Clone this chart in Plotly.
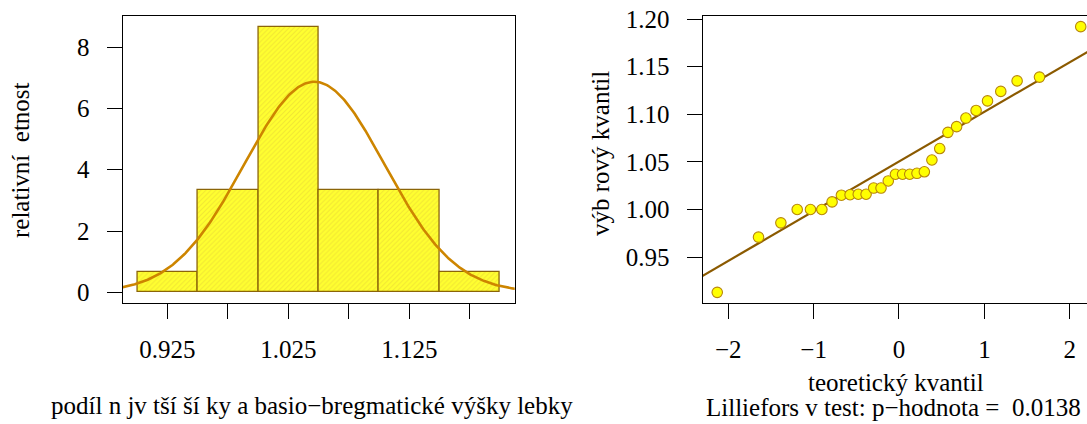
import numpy as np
import plotly.graph_objects as go
from statistics import NormalDist

# Sorted sample: ratio of the greatest skull breadth to basion-bregma height
sample = [0.913, 0.971, 0.986, 1.000, 1.000, 1.000, 1.008, 1.015, 1.0155, 1.016,
          1.016, 1.0225, 1.0225, 1.030, 1.037, 1.037, 1.037, 1.038, 1.0396, 1.052,
          1.064, 1.081, 1.087, 1.096, 1.104, 1.114, 1.124, 1.135, 1.139, 1.192]
bin_edges = [0.90, 0.95, 1.00, 1.05, 1.10, 1.15, 1.20]
hist_ticks = [0.925, 0.975, 1.025, 1.075, 1.125, 1.175]
hist_tick_text = ["0.925", "", "1.025", "", "1.125", ""]
density_ticks = [0, 2, 4, 6, 8]
qq_x_ticks = [-2, -1, 0, 1, 2]
qq_y_ticks = [0.95, 1.00, 1.05, 1.10, 1.15, 1.20]
p_value = 0.0138

x = np.array(sample)
edges = np.array(bin_edges)
n = len(x)
width = edges[1] - edges[0]

# right-closed bins (a, b]
bin_idx = np.searchsorted(edges, x, side="left") - 1
bin_idx = np.clip(bin_idx, 0, len(edges) - 2)
counts = np.bincount(bin_idx, minlength=len(edges) - 1)
density = counts / (n * width)
centers = (edges[:-1] + edges[1:]) / 2

mean = x.mean()
sd = x.std(ddof=1)

# theoretical normal quantiles
nd = NormalDist()
probs = (np.arange(1, n + 1) - 0.5) / n
theo = np.array([nd.inv_cdf(p) for p in probs])

# reference line through the quartiles
q1, q3 = np.quantile(x, [0.25, 0.75])
z1, z3 = nd.inv_cdf(0.25), nd.inv_cdf(0.75)
slope = (q3 - q1) / (z3 - z1)
intercept = q1 - slope * z1

# axis ranges with 4 % padding
hx = [edges[0] - 0.04 * (edges[-1] - edges[0]), edges[-1] + 0.04 * (edges[-1] - edges[0])]
hy = [-0.04 * density.max(), density.max() * 1.04]
qspan = theo.max() - theo.min()
qx_full = [theo.min() - 0.04 * qspan, theo.max() + 0.04 * qspan]
visible = 0.9789  # right panel runs off the page edge
qx = [qx_full[0], qx_full[0] + visible * (qx_full[1] - qx_full[0])]
yspan = x.max() - x.min()
qy = [x.min() - 0.04 * yspan, x.max() + 0.04 * yspan]

curve_x = np.linspace(hx[0] - 0.02, hx[1] + 0.02, 400)
curve_y = np.exp(-0.5 * ((curve_x - mean) / sd) ** 2) / (sd * np.sqrt(2 * np.pi))

line_x = np.array([qx_full[0] - 1, qx_full[1] + 1])
line_y = intercept + slope * line_x

FONT = "Liberation Serif, Times New Roman, serif"
FS = 25

fig = go.Figure()
fig.add_trace(go.Bar(
    x=centers, y=density, width=width, xaxis="x", yaxis="y",
    marker=dict(color="#FFFF00",
                line=dict(color="#8B6508", width=1.3),
                pattern=dict(shape="/", bgcolor="#FFFF30", fgcolor="#E2CC38",
                             size=3.5, solidity=0.3)),
    hoverinfo="skip"))
fig.add_trace(go.Scatter(
    x=curve_x, y=curve_y, mode="lines", xaxis="x", yaxis="y",
    line=dict(color="#CD8500", width=2.6), hoverinfo="skip"))

fig.add_trace(go.Scatter(
    x=line_x, y=line_y, mode="lines", xaxis="x2", yaxis="y2",
    line=dict(color="#8B5A00", width=2.2), hoverinfo="skip"))
fig.add_trace(go.Scatter(
    x=theo, y=x, mode="markers", xaxis="x2", yaxis="y2", cliponaxis=False,
    marker=dict(size=10.5, color="#FFFF00", line=dict(color="#B8860B", width=1.1)),
    hoverinfo="skip"))

axis_style = dict(showline=True, linecolor="black", linewidth=1.3,
                  ticks="outside", ticklen=15, tickwidth=1.3, tickcolor="black",
                  showgrid=False, zeroline=False, automargin=False,
                  tickfont=dict(family=FONT, size=FS, color="black"))

yb, yt = (424 - 303) / 424, (424 - 16) / 424

fig.update_layout(
    width=1087, height=424,
    margin=dict(l=0, r=0, t=0, b=0, autoexpand=False),
    paper_bgcolor="white", plot_bgcolor="white",
    showlegend=False, bargap=0,
    font=dict(family=FONT, size=FS, color="black"),
    xaxis=dict(domain=[122.7 / 1087, 514.7 / 1087], range=hx, mirror=True,
               tickmode="array", tickvals=hist_ticks, ticktext=hist_tick_text,
               ticklabelstandoff=9, anchor="y", **axis_style),
    yaxis=dict(domain=[yb, yt], range=hy, mirror=True,
               tickmode="array", tickvals=density_ticks,
               ticklabelstandoff=12, anchor="x", **axis_style),
    xaxis2=dict(domain=[702.7 / 1087, 1.0], range=qx, mirror=True,
                tickmode="array", tickvals=qq_x_ticks,
                ticklabelstandoff=9, anchor="y2", **axis_style),
    yaxis2=dict(domain=[yb, yt], range=qy, mirror=False,
                tickmode="array", tickvals=qq_y_ticks, tickformat=".2f",
                ticklabelstandoff=12, anchor="x2", **axis_style),
)

def ann(text, xpx, ypx, angle=0):
    fig.add_annotation(text=text, x=xpx / 1087, y=1 - ypx / 424,
                       xref="paper", yref="paper", showarrow=False,
                       textangle=angle, xanchor="center", yanchor="middle",
                       font=dict(family=FONT, size=FS, color="black"))

ann("relativní\u00a0 etnost", 20, 160, -90)
ann("podíl n jv tší ší ky a basio\u2212bregmatické výšky lebky", 312, 405)
ann("výb rový kvantil", 600, 154, -90)
ann("teoretický kvantil", 896, 382)
ann(f"Lilliefors v test: p\u2212hodnota =\u00a0 {p_value}", 893, 407)

fig.write_html("out.html")
